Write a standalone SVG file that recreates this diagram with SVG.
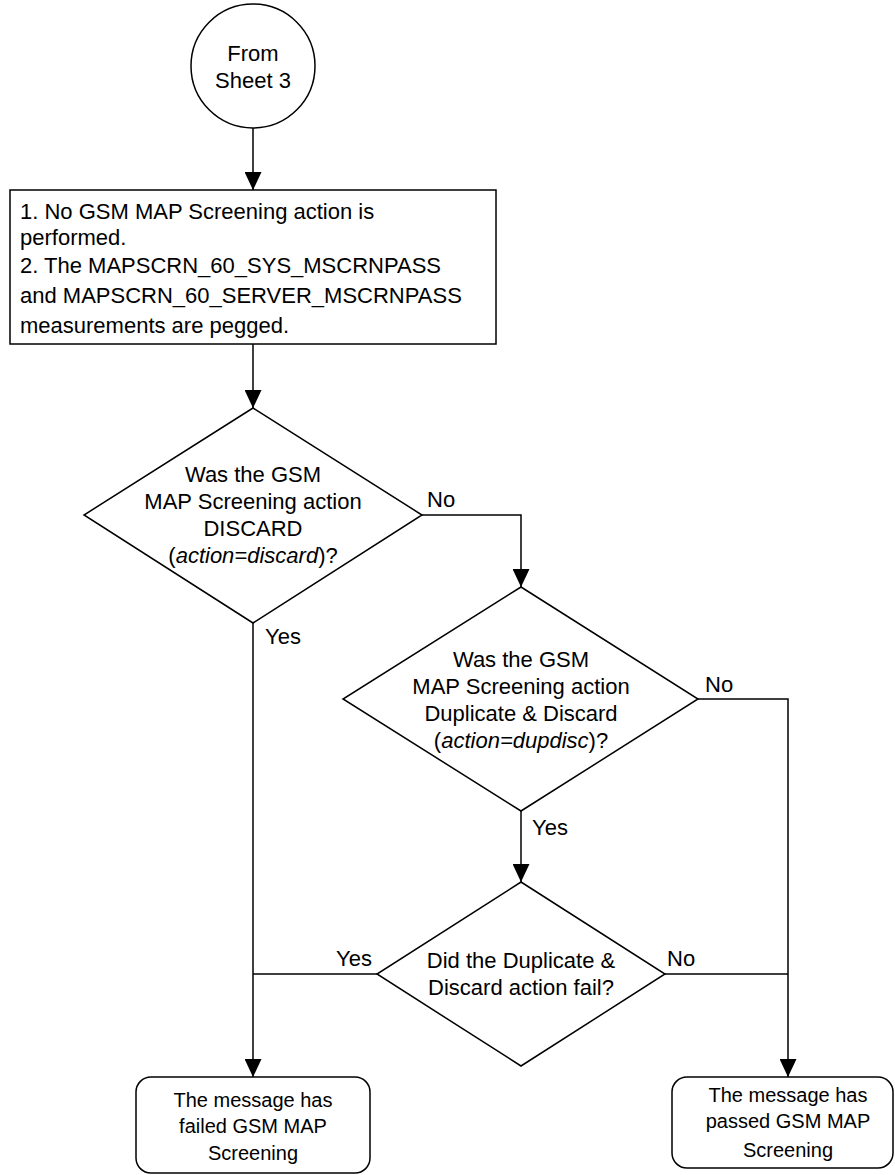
<svg xmlns="http://www.w3.org/2000/svg" width="895" height="1175" viewBox="0 0 895 1175">
  <style>
    .shape { fill: #ffffff; stroke: #000000; stroke-width: 1.5; }
    .wire { fill: none; stroke: #000000; stroke-width: 1.5; }
    text { font-family: "Liberation Sans", Arial, Helvetica, sans-serif; font-size: 22px; fill: #000000; }
    .c { text-anchor: middle; }
    .end { font-size: 20px; }
  </style>
  <defs>
    <marker id="arrow" viewBox="0 0 18 17" refX="18" refY="8.5" markerWidth="18" markerHeight="17" markerUnits="userSpaceOnUse" orient="auto">
      <path d="M0,0 L18,8.5 L0,17 z" fill="#000000"/>
    </marker>
  </defs>

  <rect width="895" height="1175" fill="#ffffff"/>

  <!-- connectors -->
  <g id="connectors">
    <line class="wire" x1="253" y1="128" x2="253" y2="190" marker-end="url(#arrow)"/>
    <line class="wire" x1="253" y1="344" x2="253" y2="408" marker-end="url(#arrow)"/>
    <polyline class="wire" points="422,515 521,515 521,587" marker-end="url(#arrow)"/>
    <line class="wire" x1="253" y1="623" x2="253" y2="1077" marker-end="url(#arrow)"/>
    <line class="wire" x1="521" y1="811" x2="521" y2="882" marker-end="url(#arrow)"/>
    <polyline class="wire" points="698,699 788,699 788,1077" marker-end="url(#arrow)"/>
    <line class="wire" x1="377" y1="974" x2="253" y2="974"/>
    <line class="wire" x1="665" y1="974" x2="788" y2="974"/>
    <text x="427" y="507">No</text>
    <text x="265" y="644">Yes</text>
    <text x="705" y="692">No</text>
    <text x="532" y="835">Yes</text>
    <text x="336" y="966">Yes</text>
    <text x="667" y="966">No</text>
  </g>

  <!-- off-page connector -->
  <g id="from-sheet-3">
    <circle class="shape" cx="253" cy="66" r="62"/>
    <text class="c" x="253" y="61">From</text>
    <text class="c" x="253" y="88">Sheet 3</text>
  </g>

  <!-- process box -->
  <g id="no-action">
    <rect class="shape" x="10" y="190" width="486" height="154"/>
    <text x="20" y="219">1. No GSM MAP Screening action is</text>
    <text x="20" y="245">performed.</text>
    <text x="20" y="273">2. The MAPSCRN_60_SYS_MSCRNPASS</text>
    <text x="20" y="303">and MAPSCRN_60_SERVER_MSCRNPASS</text>
    <text x="20" y="333">measurements are pegged.</text>
  </g>

  <!-- decision: discard -->
  <g id="is-discard">
    <polygon class="shape" points="253,408 422,515 253,623 84,515"/>
    <text class="c" x="253" y="482">Was the GSM</text>
    <text class="c" x="253" y="509">MAP Screening action</text>
    <text class="c" x="253" y="536">DISCARD</text>
    <text class="c" x="253" y="563">(<tspan font-style="italic">action=discard</tspan>)?</text>
  </g>

  <!-- decision: duplicate & discard -->
  <g id="is-dupdisc">
    <polygon class="shape" points="521,587 698,699 521,811 343,699"/>
    <text class="c" x="521" y="667">Was the GSM</text>
    <text class="c" x="521" y="694">MAP Screening action</text>
    <text class="c" x="521" y="721">Duplicate &amp; Discard</text>
    <text class="c" x="521" y="748">(<tspan font-style="italic">action=dupdisc</tspan>)?</text>
  </g>

  <!-- decision: dupdisc failed -->
  <g id="dupdisc-failed">
    <polygon class="shape" points="521,882 665,974 521,1066 377,974"/>
    <text class="c" x="521" y="968">Did the Duplicate &amp;</text>
    <text class="c" x="521" y="995">Discard action fail?</text>
  </g>

  <!-- terminals -->
  <g id="failed">
    <rect class="shape" x="136" y="1077" width="234" height="96" rx="15" ry="15"/>
    <text class="c end" x="253" y="1107">The message has</text>
    <text class="c end" x="253" y="1133">failed GSM MAP</text>
    <text class="c end" x="253" y="1160">Screening</text>
  </g>

  <g id="passed">
    <rect class="shape" x="672" y="1077" width="221" height="91" rx="15" ry="15"/>
    <text class="c end" x="788" y="1102">The message has</text>
    <text class="c end" x="788" y="1128">passed GSM MAP</text>
    <text class="c end" x="788" y="1157">Screening</text>
  </g>
</svg>
